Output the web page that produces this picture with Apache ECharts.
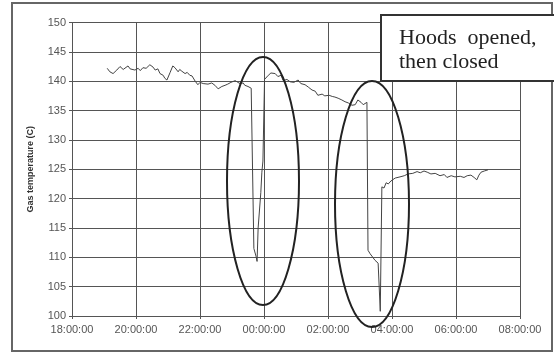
<!DOCTYPE html>
<html>
<head>
<meta charset="utf-8">
<script src="https://cdn.jsdelivr.net/npm/echarts@6/dist/echarts.min.js"></script>
<style>
  html, body { margin: 0; padding: 0; background: #fff; }
  #chart { width: 554px; height: 354px; }
</style>
</head>
<body>
<div id="chart"></div>
<script>
var times = ['19:06','19:11','19:17','19:24','19:30','19:36','19:39','19:45','19:49','19:52','19:58',
  '20:04','20:08','20:13','20:19','20:26','20:32','20:36','20:41','20:45','20:51','20:54','20:58',
  '21:04','21:09','21:13','21:19','21:22','21:26','21:32','21:36','21:41','21:45','21:51','21:56',
  '22:00','22:06','22:09','22:15','22:22','22:28','22:34','22:37','22:41','22:47','22:52','22:58',
  '23:06','23:11','23:15','23:21','23:24','23:30','23:36','23:39','23:41','23:45','23:47','23:49',
  '23:52','23:54','23:56','23:58','00:01','00:08','00:13','00:21','00:26','00:32','00:36','00:43',
  '00:49','00:56','01:04','01:09','01:17','01:23','01:30','01:36','01:41','01:49','01:54','02:02',
  '02:08','02:13','02:19','02:26','02:32','02:38','02:45','02:51','02:56','03:02','03:06','03:09',
  '03:13','03:15','03:19','03:24','03:28','03:34','03:38','03:41','03:45','03:49','03:53','03:58',
  '04:06','04:15','04:23','04:30','04:39','04:47','04:53','05:00','05:06','05:13','05:21','05:30',
  '05:38','05:43','05:51','05:58','06:08','06:15','06:21','06:28','06:34','06:39','06:43','06:47',
  '06:53','07:00'];
var temps = [142.2,141.6,141.3,141.9,142.5,142.0,142.2,142.6,142.1,142.4,141.9,
  142.2,141.8,142.3,142.2,142.8,142.4,141.9,142.1,141.3,141.0,140.5,140.2,
  141.5,142.6,142.3,141.6,142.0,141.7,141.3,141.5,141.0,140.9,140.0,139.4,
  139.8,139.6,139.8,139.5,139.7,139.3,138.7,138.9,139.1,139.3,139.5,139.8,
  140.1,139.8,139.6,139.7,139.3,139.1,138.8,138.6,111.5,110.2,109.3,115.0,
  115.3,121.0,124.5,126.4,140.3,141.0,141.4,141.3,140.8,141.0,140.1,140.3,
  139.9,139.8,140.2,139.6,139.4,139.0,138.5,138.3,137.6,137.8,137.5,137.6,
  137.4,137.3,137.1,136.8,136.5,136.3,135.9,136.0,136.8,136.4,136.0,135.7,
  136.4,111.2,110.6,110.0,109.5,109.0,100.8,122.0,121.8,122.7,122.5,123.0,
  123.5,123.7,123.9,124.2,124.3,124.6,124.4,124.7,124.5,124.2,124.3,123.9,
  124.1,123.6,123.9,123.7,123.8,123.6,123.9,124.0,123.6,123.2,124.0,124.5,
  124.7,124.9];

var yTitle = 'Gas temperature (C)';
var note = 'Hoods  opened,\nthen closed';

// hours since midnight of the first day (after midnight wraps past 24)
function toHours(s) {
  var p = s.split(':');
  var h = +p[0] + (+p[1]) / 60;
  return h < 18 ? h + 24 : h;
}
var points = times.map(function (t, i) { return [toHours(t), temps[i]]; });

function hourLabel(v) {
  var h = Math.round(v) % 24;
  return (h < 10 ? '0' : '') + h + ':00:00';
}

var font = "'Liberation Sans', Arial, sans-serif";

var chart = echarts.init(document.getElementById('chart'));
chart.setOption({
  animation: false,
  backgroundColor: '#fff',
  grid: { left: 72, right: 34, top: 22.5, bottom: 38 },
  xAxis: {
    type: 'value',
    min: 18, max: 32, interval: 2,
    axisLine: { show: true, lineStyle: { color: '#555', width: 1 } },
    axisTick: { show: true, length: 3, lineStyle: { color: '#555' } },
    axisLabel: { formatter: hourLabel, color: '#555', fontFamily: font, fontSize: 11, margin: 8 },
    splitLine: { show: true, lineStyle: { color: '#555', width: 1 } }
  },
  yAxis: {
    type: 'value',
    min: 100, max: 150, interval: 5,
    name: yTitle,
    nameLocation: 'middle',
    nameGap: 37,
    nameTextStyle: { fontFamily: font, fontSize: 9, fontWeight: 'bold', color: '#333' },
    axisLine: { show: true, lineStyle: { color: '#555', width: 1 } },
    axisTick: { show: true, length: 3, lineStyle: { color: '#555' } },
    axisLabel: { color: '#555', fontFamily: font, fontSize: 11, margin: 6 },
    splitLine: { show: true, lineStyle: { color: '#555', width: 1 } }
  },
  series: [{
    type: 'line',
    data: points,
    showSymbol: false,
    lineStyle: { color: '#444', width: 1 }
  }],
  graphic: [
    { type: 'rect', shape: { x: 12, y: 3, width: 540, height: 348 },
      style: { fill: 'none', stroke: '#666', lineWidth: 2 }, z: 100 },
    { type: 'ellipse', shape: { cx: 263, cy: 181, rx: 36, ry: 124 },
      style: { fill: 'none', stroke: '#222', lineWidth: 2 }, z: 100 },
    { type: 'ellipse', shape: { cx: 372, cy: 204, rx: 37, ry: 123 },
      style: { fill: 'none', stroke: '#222', lineWidth: 2 }, z: 100 },
    { type: 'rect', shape: { x: 381, y: 15, width: 185, height: 66 },
      style: { fill: '#fff', stroke: '#333', lineWidth: 2 }, z: 101 },
    { type: 'text', x: 399, y: 26, z: 102,
      style: { text: note, fill: '#222', font: "22px 'Liberation Serif', 'Times New Roman', serif", lineHeight: 24 } }
  ]
});
</script>
</body>
</html>
